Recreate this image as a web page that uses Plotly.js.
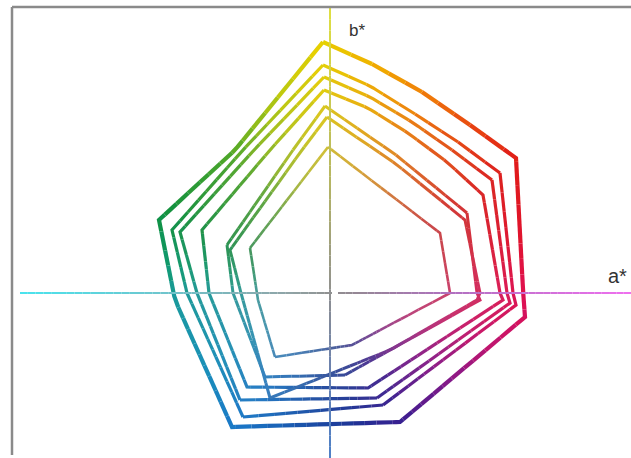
<!DOCTYPE html>
<html><head><meta charset="utf-8">
<script src="https://cdn.plot.ly/plotly-3.0.1.min.js"></script>
<style>html,body{margin:0;padding:0;background:#fff}#chart{width:631px;height:458px}</style>
</head><body><div id="chart"></div>
<script>
// Gamut rings in the a*-b* plane (a*, b* values), outermost first
const ring1A = [-3.5, 21, 46, 70, 93, 96.5, 97.5, 35, -49, -77.5, -85.5, -47.5, -3.5];
const ring1B = [125.5, 114.5, 100.5, 84, 67.5, 1.5, -12, -64.5, -67, -3.5, 36.5, 71.5, 125.5];
const ring2A = [-3.5, 20, 42.5, 64, 85, 91.5, 93, 26.5, -43.5, -71.5, -79, -43.5, -3.5];
const ring2B = [114, 103.5, 89.5, 75.5, 60, 0, -6, -56, -62, 0, 31.5, 71.5, 114];
const ring3A = [-3, 20, 41, 61, 81, 88.5, 90, 23.5, -45, -66.5, -75, -38, -3];
const ring3B = [108, 98, 85.5, 71.5, 56.5, 0, -5, -52.5, -53.5, 0, 30.5, 71.5, 108];
const ring4A = [-3, 19, 39, 58.5, 76.5, 85, 86.5, 19, -41.5, -60.5, -64, -30, -3];
const ring4B = [101.5, 92.5, 80, 65.5, 49, 0, -3.5, -47.5, -47, 0, 31.5, 71.5, 101.5];
const ring5A = [-2.5, 33, 68.5, 73.5, 75, 7.5, -32.5, -48.5, -51.5, -18.5, -2.5];
const ring5B = [93.5, 69, 40, 0, -3.5, -41, -42, 0, 24, 71.5, 93.5];
const ring6A = [-1.5, 33, 67.5, 75, 73.5, 30, -30, -44.5, -50, -14, -1.5];
const ring6B = [88, 64.5, 36.5, 0, -3.5, -28.5, -52.5, 0, 21.5, 71.5, 88];
const ring7A = [-1, 55, 60, 11, -27.5, -36, -40, -1];
const ring7B = [73, 30, 0, -26, -32, -3.5, 22.5, 73];
const axisLabelA = 'a*';
const axisLabelB = 'b*';

const rings = [
  {a: ring1A, b: ring1B, w: 4.2, fade: 0.0},
  {a: ring2A, b: ring2B, w: 3.2, fade: 0.04},
  {a: ring3A, b: ring3B, w: 3.2, fade: 0.08},
  {a: ring4A, b: ring4B, w: 3.2, fade: 0.1},
  {a: ring5A, b: ring5B, w: 3.0, fade: 0.2},
  {a: ring6A, b: ring6B, w: 3.0, fade: 0.22},
  {a: ring7A, b: ring7B, w: 2.6, fade: 0.35}
];

const hueStops = [
  [-180, '#1a9a9a'], [-150, '#1a90b8'], [-125, '#1a78c8'], [-100, '#1a50a8'],
  [-80, '#1e3496'], [-60, '#3a1e90'], [-35, '#8a1888'], [-15, '#c8146a'],
  [0, '#e01050'], [20, '#e01428'], [36, '#e01c18'], [50, '#e84810'],
  [65, '#f08008'], [80, '#f0b000'], [92, '#e8d000'], [105, '#b8c810'],
  [125, '#50a828'], [155, '#109040'], [170, '#109a70'], [180, '#1a9a9a']
];

function hexRgb(h) { return [parseInt(h.slice(1,3),16), parseInt(h.slice(3,5),16), parseInt(h.slice(5,7),16)]; }
function lerpStops(stops, v) {
  for (let i = 0; i < stops.length - 1; i++) {
    const s0 = stops[i], s1 = stops[i+1];
    if (v >= s0[0] && v <= s1[0]) {
      const t = (v - s0[0]) / (s1[0] - s0[0] || 1);
      const c0 = hexRgb(s0[1]), c1 = hexRgb(s1[1]);
      return c0.map((c, k) => c + (c1[k] - c) * t);
    }
  }
  return hexRgb(v < stops[0][0] ? stops[0][1] : stops[stops.length-1][1]);
}
function rgbStr(c, fade) {
  const g = 160;
  const r = c.map(v => Math.round(v + (g - v) * fade));
  return 'rgb(' + r.join(',') + ')';
}

const BIN = 5;
const traces = [];
rings.forEach(ring => {
  const bins = {};
  let curBin = null;
  const A = ring.a, B = ring.b;
  for (let i = 0; i < A.length - 1; i++) {
    const x0 = A[i], y0 = B[i], x1 = A[i+1], y1 = B[i+1];
    const len = Math.hypot(x1 - x0, y1 - y0);
    const steps = Math.max(1, Math.ceil(len / 2));
    for (let s = 0; s < steps; s++) {
      const t0 = s / steps, t1 = (s + 1) / steps;
      const ax = x0 + (x1 - x0) * t0, ay = y0 + (y1 - y0) * t0;
      const bx = x0 + (x1 - x0) * t1, by = y0 + (y1 - y0) * t1;
      const th = Math.atan2((ay + by) / 2, (ax + bx) / 2) * 180 / Math.PI;
      const bin = Math.min(Math.floor((th + 180) / BIN), 360 / BIN - 1);
      if (!bins[bin]) bins[bin] = {x: [], y: []};
      const arr = bins[bin];
      if (bin === curBin) {
        arr.x.push(bx); arr.y.push(by);
      } else {
        if (arr.x.length) { arr.x.push(null); arr.y.push(null); }
        arr.x.push(ax, bx); arr.y.push(ay, by);
        curBin = bin;
      }
    }
  }
  Object.keys(bins).forEach(k => {
    const center = -180 + (Number(k) + 0.5) * BIN;
    traces.push({
      type: 'scatter', mode: 'lines', x: bins[k].x, y: bins[k].y,
      line: {color: rgbStr(lerpStops(hueStops, center), ring.fade), width: ring.w},
      hoverinfo: 'skip', showlegend: false
    });
  });
});

// axis lines with colour gradients (decoration)
const shapes = [];
function gradLine(x0, y0, x1, y1, stops, keyOf, n) {
  for (let i = 0; i < n; i++) {
    const t0 = i / n, t1 = (i + 1) / n;
    const xa = x0 + (x1 - x0) * t0, ya = y0 + (y1 - y0) * t0;
    const xb = x0 + (x1 - x0) * t1, yb = y0 + (y1 - y0) * t1;
    const c = lerpStops(stops, keyOf((xa + xb) / 2, (ya + yb) / 2));
    shapes.push({type: 'line', xref: 'x', yref: 'y', x0: xa, y0: ya, x1: xb, y1: yb,
      line: {color: rgbStr(c, 0), width: 2}, layer: 'above'});
  }
}
const hAxisStops = [[-160, '#48e6f0'], [-80, '#70c4cc'], [-20, '#90a4a6'], [0, '#909090'],
  [12, '#948894'], [60, '#b070c0'], [152, '#f070f0']];
const vAxisStops = [[-84, '#4c80c8'], [-40, '#6880b0'], [0, '#909090'], [60, '#b8b860'], [144, '#e0e040']];
gradLine(-155, 0, 1, 0, hAxisStops, (x, y) => x, 40);
gradLine(4, 0, 150.5, 0, hAxisStops, (x, y) => x, 40);
gradLine(0, 142.5, 0, -82.5, vAxisStops, (x, y) => y, 40);

// frame
shapes.push({type: 'line', xref: 'paper', yref: 'paper', x0: 12/631, x1: 1, y0: 1 - 7/458, y1: 1 - 7/458,
  line: {color: '#8a8a8a', width: 2.5}});
shapes.push({type: 'line', xref: 'paper', yref: 'paper', x0: 12/631, x1: 12/631, y0: 1 - 455/458, y1: 1 - 7/458,
  line: {color: '#8a8a8a', width: 2.5}});

const layout = {
  width: 631, height: 458,
  margin: {l: 0, r: 0, t: 0, b: 0},
  paper_bgcolor: '#ffffff', plot_bgcolor: '#ffffff',
  xaxis: {range: [-165, 150.5], visible: false, fixedrange: true},
  yaxis: {range: [-82.5, 146.5], visible: false, fixedrange: true},
  shapes: shapes,
  annotations: [
    {x: 13.5, y: 131.5, xref: 'x', yref: 'y', text: axisLabelB, showarrow: false,
      font: {family: 'Liberation Sans, Arial, sans-serif', size: 17, color: '#333'}},
    {x: 143.5, y: 8.5, xref: 'x', yref: 'y', text: axisLabelA, showarrow: false,
      font: {family: 'Liberation Sans, Arial, sans-serif', size: 20, color: '#333'}}
  ],
  showlegend: false
};

Plotly.newPlot('chart', traces, layout, {displayModeBar: false, staticPlot: true});
</script>
</body></html>
